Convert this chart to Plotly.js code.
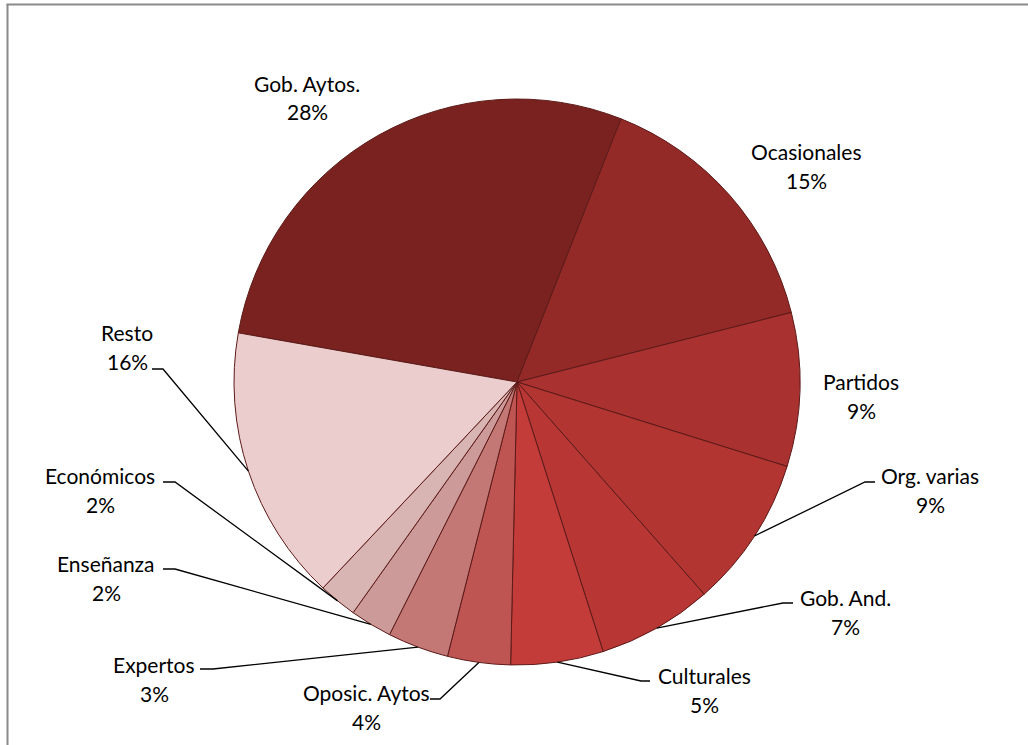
<!DOCTYPE html>
<html>
<head>
<meta charset="utf-8">
<script src="https://cdn.plot.ly/plotly-3.0.1.min.js"></script>
<style>
html,body{margin:0;padding:0;background:#fff;}
#chart{width:1028px;height:745px;}
</style>
</head>
<body>
<div id="chart"></div>
<script>
// ---- data ----
const labels = ['Gob. Aytos.','Ocasionales','Partidos','Org. varias','Gob. And.','Culturales','Oposic. Aytos','Expertos','Enseñanza','Económicos','Resto'];
const values = [28.3, 15.1, 8.8, 8.7, 6.6, 5.3, 3.6, 3.5, 2.4, 2.2, 15.8];

// ---- styles / layout ----
const sliceColors = ['#7a221f','#932a28','#a9312f','#b23532','#b83735','#c33c39','#bf5553','#c37876','#cc9a99','#d8b4b3','#ebcdcd'];
const W = 1028, H = 745;
const CX = 517, CY = 382, R = 283;
const ROT = -80;
const FONT = 'Lato, "Open Sans", sans-serif';
const FS = 21;
// label text centre [x, y of first line]; second line is 29px below
const labelPos = [[307,83],[806,151],[861,381],[930,475],[845,597],[704,675],[366,692],[154,664],[106,563],[100,475],[127,333]];
// leader elbows: [elbowX, elbowY, endX] or null
const leaders = [null,null,null,[865,482,875],[783,603,793],[641,681,650],[440,699,430],[213,669,200],[175,569,163],[175,482,163],[163,369,152]];

const px = x => x / W;
const py = y => 1 - y / H;

const total = values.reduce((a,b)=>a+b,0);
const pct = values.map(v => Math.round(v/total*100) + '%');

const annotations = [];
const shapes = [];
let cum = 0;
values.forEach((v,i) => {
  const mid = (ROT + 360*(cum + v/2)/total) * Math.PI/180;
  cum += v;
  const [lx, ly] = labelPos[i];
  annotations.push({xref:'paper',yref:'paper',x:px(lx),y:py(ly),text:labels[i],showarrow:false,xanchor:'center',yanchor:'middle',font:{family:FONT,size:FS,color:'#000'}});
  annotations.push({xref:'paper',yref:'paper',x:px(lx),y:py(ly+29),text:pct[i],showarrow:false,xanchor:'center',yanchor:'middle',font:{family:FONT,size:FS,color:'#000'}});
  const L = leaders[i];
  if (L) {
    const sx = CX + R*Math.sin(mid), sy = CY - R*Math.cos(mid);
    shapes.push({type:'path',xref:'paper',yref:'paper',
      path:`M ${px(sx)} ${py(sy)} L ${px(L[0])} ${py(L[1])} L ${px(L[2])} ${py(L[1])}`,
      line:{color:'#000',width:1.3}});
  }
});

// chart frame
shapes.push({type:'line',xref:'paper',yref:'paper',x0:px(7.5),x1:px(7.5),y0:py(4.5),y1:-0.05,line:{color:'#8a8a8a',width:2}});
shapes.push({type:'line',xref:'paper',yref:'paper',x0:px(6.5),x1:1.05,y0:py(4.5),y1:py(4.5),line:{color:'#8a8a8a',width:2}});

const trace = {
  type:'pie',
  labels: labels,
  values: values,
  sort:false,
  direction:'clockwise',
  rotation: ROT,
  textinfo:'none',
  hoverinfo:'label+percent',
  marker:{colors:sliceColors, line:{color:'#5c1a18', width:1}},
  domain:{x:[(CX-R)/W,(CX+R)/W], y:[1-(CY+R)/H, 1-(CY-R)/H]}
};

const layout = {
  width:W, height:H,
  margin:{l:0,r:0,t:0,b:0},
  paper_bgcolor:'#fff',
  showlegend:false,
  annotations: annotations,
  shapes: shapes
};

Plotly.newPlot('chart',[trace],layout,{displayModeBar:false,staticPlot:true});
</script>
</body>
</html>
